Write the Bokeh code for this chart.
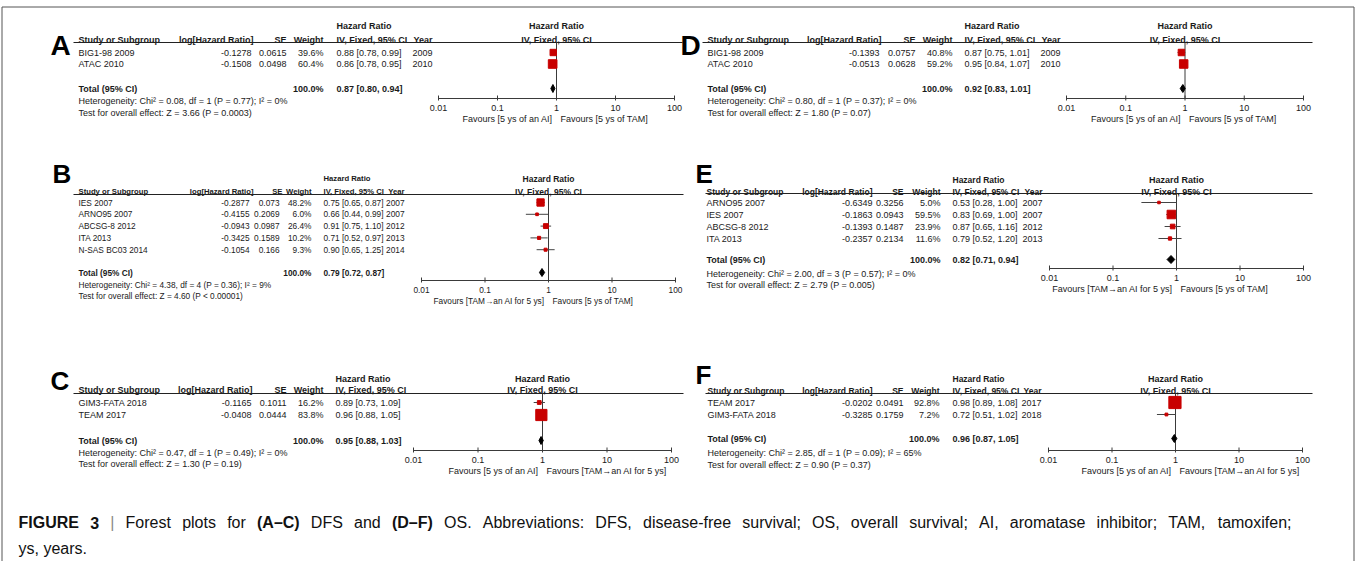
from bokeh.plotting import figure
from bokeh.models import Range1d, LogScale, ColumnDataSource
from bokeh.core.properties import value
from bokeh.embed import file_html
from bokeh.resources import INLINE

# ---------------- data ----------------
hr_ticks = [0.01, 0.1, 1, 10, 100]
hr_tick_labels = ["0.01", "0.1", "1", "10", "100"]

A_study = ["BIG1-98 2009", "ATAC 2010"]
A_loghr = ["-0.1278", "-0.1508"]
A_se = ["0.0615", "0.0498"]
A_weight = [39.6, 60.4]
A_hr = [0.88, 0.86]
A_lo = [0.78, 0.78]
A_hi = [0.99, 0.95]
A_year = ["2009", "2010"]
A_total = [0.87, 0.80, 0.94]
A_total_weight = "100.0%"
A_het = "Heterogeneity: Chi² = 0.08, df = 1 (P = 0.77); I² = 0%"
A_test = "Test for overall effect: Z = 3.66 (P = 0.0003)"
A_favours = ["Favours [5 ys of an AI]", "Favours [5 ys of TAM]"]

B_study = ["IES 2007", "ARNO95 2007", "ABCSG-8 2012", "ITA 2013", "N-SAS BC03 2014"]
B_loghr = ["-0.2877", "-0.4155", "-0.0943", "-0.3425", "-0.1054"]
B_se = ["0.073", "0.2069", "0.0987", "0.1589", "0.166"]
B_weight = [48.2, 6.0, 26.4, 10.2, 9.3]
B_hr = [0.75, 0.66, 0.91, 0.71, 0.90]
B_lo = [0.65, 0.44, 0.75, 0.52, 0.65]
B_hi = [0.87, 0.99, 1.10, 0.97, 1.25]
B_year = ["2007", "2007", "2012", "2013", "2014"]
B_total = [0.79, 0.72, 0.87]
B_total_weight = "100.0%"
B_het = "Heterogeneity: Chi² = 4.38, df = 4 (P = 0.36); I² = 9%"
B_test = "Test for overall effect: Z = 4.60 (P < 0.00001)"
B_favours = ["Favours [TAM\u2192an AI for 5 ys]", "Favours [5 ys of TAM]"]

C_study = ["GIM3-FATA 2018", "TEAM 2017"]
C_loghr = ["-0.1165", "-0.0408"]
C_se = ["0.1011", "0.0444"]
C_weight = [16.2, 83.8]
C_hr = [0.89, 0.96]
C_lo = [0.73, 0.88]
C_hi = [1.09, 1.05]
C_year = None
C_total = [0.95, 0.88, 1.03]
C_total_weight = "100.0%"
C_het = "Heterogeneity: Chi² = 0.47, df = 1 (P = 0.49); I² = 0%"
C_test = "Test for overall effect: Z = 1.30 (P = 0.19)"
C_favours = ["Favours [5 ys of an AI]", "Favours [TAM\u2192an AI for 5 ys]"]

D_study = ["BIG1-98 2009", "ATAC 2010"]
D_loghr = ["-0.1393", "-0.0513"]
D_se = ["0.0757", "0.0628"]
D_weight = [40.8, 59.2]
D_hr = [0.87, 0.95]
D_lo = [0.75, 0.84]
D_hi = [1.01, 1.07]
D_year = ["2009", "2010"]
D_total = [0.92, 0.83, 1.01]
D_total_weight = "100.0%"
D_het = "Heterogeneity: Chi² = 0.80, df = 1 (P = 0.37); I² = 0%"
D_test = "Test for overall effect: Z = 1.80 (P = 0.07)"
D_favours = ["Favours [5 ys of an AI]", "Favours [5 ys of TAM]"]

E_study = ["ARNO95 2007", "IES 2007", "ABCSG-8 2012", "ITA 2013"]
E_loghr = ["-0.6349", "-0.1863", "-0.1393", "-0.2357"]
E_se = ["0.3256", "0.0943", "0.1487", "0.2134"]
E_weight = [5.0, 59.5, 23.9, 11.6]
E_hr = [0.53, 0.83, 0.87, 0.79]
E_lo = [0.28, 0.69, 0.65, 0.52]
E_hi = [1.00, 1.00, 1.16, 1.20]
E_year = ["2007", "2007", "2012", "2013"]
E_total = [0.82, 0.71, 0.94]
E_total_weight = "100.0%"
E_het = "Heterogeneity: Chi² = 2.00, df = 3 (P = 0.57); I² = 0%"
E_test = "Test for overall effect: Z = 2.79 (P = 0.005)"
E_favours = ["Favours [TAM\u2192an AI for 5 ys]", "Favours [5 ys of TAM]"]

F_study = ["TEAM 2017", "GIM3-FATA 2018"]
F_loghr = ["-0.0202", "-0.3285"]
F_se = ["0.0491", "0.1759"]
F_weight = [92.8, 7.2]
F_hr = [0.98, 0.72]
F_lo = [0.89, 0.51]
F_hi = [1.08, 1.02]
F_year = ["2017", "2018"]
F_total = [0.96, 0.87, 1.05]
F_total_weight = "100.0%"
F_het = "Heterogeneity: Chi² = 2.85, df = 1 (P = 0.09); I² = 65%"
F_test = "Test for overall effect: Z = 0.90 (P = 0.37)"
F_favours = ["Favours [5 ys of an AI]", "Favours [TAM\u2192an AI for 5 ys]"]

caption_line1 = ("FIGURE 3 | Forest plots for (A\u2013C) DFS and (D\u2013F) OS. Abbreviations: DFS, "
                 "disease-free survival; OS, overall survival; AI, aromatase inhibitor; TAM, tamoxifen;")
caption_line2 = "ys, years."
caption_bold = {"FIGURE", "3", "(A\u2013C)", "(D\u2013F)"}

# ---------------- layout (page pixel positions) ----------------
LAYOUT = {
    "A": dict(letter=(50, 45), lsize="28px", fs="9px", hfs="9px", ffs="9px",
              hr_y=25, head_y=39, line_y=42, row0=52, step=11.5,
              tot_y=88, het_y=100, test_y=112, xs=78, xlog_h=253, xlog=251, xse_h=286, xse=286,
              xwt=323, xci=336, xyr=432,
              line_x=(73, 682), fa=438, fb=674, ax_y=98),
    "D": dict(letter=(680, 45), lsize="28px", fs="9px", hfs="9px", ffs="9px",
              hr_y=25, head_y=39, line_y=42, row0=52, step=11.5,
              tot_y=88, het_y=100, test_y=112, xs=707, xlog_h=881, xlog=879, xse_h=915, xse=915,
              xwt=952, xci=964, xyr=1060,
              line_x=(702, 1312), fa=1066, fb=1303, ax_y=98),
    "B": dict(letter=(52, 173), lsize="26px", fs="8.3px", hfs="7.7px", ffs="8.5px",
              hr_y=178, head_y=191, line_y=194, row0=202, step=11.8,
              tot_y=272, het_y=284, test_y=295, xs=78, xlog_h=253, xlog=249, xse_h=282, xse=279,
              xwt=311, xci=323, xyr=404,
              line_x=(73, 683), fa=421, fb=675, ax_y=280),
    "E": dict(letter=(695, 173), lsize="26px", fs="9px", hfs="8.5px", ffs="9px",
              hr_y=179, head_y=191, line_y=193, row0=202, step=12,
              tot_y=259, het_y=273, test_y=284, xs=706, xlog_h=872, xlog=872, xse_h=903, xse=903,
              xwt=940, xci=952, xyr=1042,
              line_x=(705, 1312), fa=1049, fb=1303, ax_y=268),
    "C": dict(letter=(50, 380), lsize="26px", fs="9px", hfs="9px", ffs="9px",
              hr_y=378, head_y=389, line_y=393, row0=402, step=12.5,
              tot_y=440, het_y=452, test_y=463, xs=78, xlog_h=252, xlog=251, xse_h=286, xse=286,
              xwt=323, xci=335, xyr=None,
              line_x=(73, 683), fa=413, fb=671, ax_y=450),
    "F": dict(letter=(695, 374), lsize="26px", fs="9px", hfs="8.5px", ffs="9px",
              hr_y=378, head_y=390, line_y=393, row0=402, step=12,
              tot_y=438, het_y=452, test_y=464, xs=707, xlog_h=872, xlog=872, xse_h=903, xse=903,
              xwt=939, xci=952, xyr=1041,
              line_x=(705, 1312), fa=1048, fb=1302, ax_y=450),
}
CAPTION = dict(x0=18, x1=1291, y1=522, y2=548, size=16)

FONT = value("Liberation Sans")
TXT = "#1a1a1a"
LINE = "#3a3a3a"
RED = "#c80000"
BORDER = "#555555"

W, H = 1356, 561

p = figure(width=W, height=H, x_range=Range1d(0, W), y_range=Range1d(H, 0),
           output_backend="svg", toolbar_location=None, min_border=0,
           x_axis_location=None, y_axis_location=None)
p.grid.visible = False
p.outline_line_color = None
p.background_fill_color = "white"
p.border_fill_color = "white"


def txt(xs, ys, texts, align="left", bold=False, size="9px", rng="default", color=TXT,
        baseline="middle", xoff=0):
    src = ColumnDataSource(dict(x=list(xs), y=list(ys), t=list(texts)))
    p.text(x="x", y="y", text="t", source=src, text_align=align, text_baseline=baseline,
           text_font=FONT, text_font_size=size, text_font_style="bold" if bold else "normal",
           text_color=color, x_range_name=rng, x_offset=xoff)


def log_range(a, b):
    k = 4.0 / (b - a)
    lo = -2 + (0 - a) * k
    hi = -2 + (W - a) * k
    return Range1d(10 ** lo, 10 ** hi)


def draw_panel(key, study, loghr, se, weight, hr, lo, hi, year, total, total_w, het, test, favours):
    L = LAYOUT[key]
    fs, hfs, ffs = L["fs"], L["hfs"], L["ffs"]
    rng = "f" + key
    p.extra_x_ranges[rng] = log_range(L["fa"], L["fb"])
    p.extra_x_scales[rng] = LogScale()

    n = len(study)
    ys = [L["row0"] + i * L["step"] for i in range(n)]

    # panel letter
    txt([L["letter"][0]], [L["letter"][1]], [key], bold=True, size=L["lsize"], color="black",
        baseline="alphabetic")

    # table header
    txt([L["xci"]], [L["hr_y"]], ["Hazard Ratio"], bold=True, size=hfs)
    txt([L["xs"]], [L["head_y"]], ["Study or Subgroup"], bold=True, size=hfs)
    txt([L["xlog_h"], L["xse_h"], L["xwt"]], [L["head_y"]] * 3,
        ["log[Hazard Ratio]", "SE", "Weight"], align="right", bold=True, size=hfs)
    txt([L["xci"]], [L["head_y"]], ["IV, Fixed, 95% CI"], bold=True, size=hfs)
    if year is not None:
        txt([L["xyr"]], [L["head_y"]], ["Year"], align="right", bold=True, size=hfs)
    p.segment(x0=[L["line_x"][0]], y0=[L["line_y"]], x1=[L["line_x"][1]], y1=[L["line_y"]],
              line_color="#222", line_width=1)

    # rows
    txt([L["xs"]] * n, ys, study, size=fs)
    txt([L["xlog"]] * n, ys, loghr, align="right", size=fs)
    txt([L["xse"]] * n, ys, se, align="right", size=fs)
    txt([L["xwt"]] * n, ys, ["%.1f%%" % w for w in weight], align="right", size=fs)
    txt([L["xci"]] * n, ys, ["%.2f [%.2f, %.2f]" % (h, l, u) for h, l, u in zip(hr, lo, hi)],
        size=fs)
    if year is not None:
        txt([L["xyr"]] * n, ys, year, align="right", size=fs)

    # total + stats
    txt([L["xs"]], [L["tot_y"]], ["Total (95% CI)"], bold=True, size=fs)
    txt([L["xwt"]], [L["tot_y"]], [total_w], align="right", bold=True, size=fs)
    txt([L["xci"]], [L["tot_y"]], ["%.2f [%.2f, %.2f]" % tuple(total)], bold=True, size=fs)
    txt([L["xs"]], [L["het_y"]], [het], size=fs)
    txt([L["xs"]], [L["test_y"]], [test], size=fs)

    # forest header
    txt([1, 1], [L["hr_y"], L["head_y"]], ["Hazard Ratio", "IV, Fixed, 95% CI"], align="center",
        bold=True, rng=rng, size=ffs)

    # line of no effect
    p.segment(x0=[1], y0=[L["line_y"]], x1=[1], y1=[L["ax_y"]], line_color=LINE, line_width=1,
              x_range_name=rng)

    # CIs and squares (square size grows with the study weight)
    p.segment(x0=lo, y0=ys, x1=hi, y1=ys, line_color="#444", line_width=1, x_range_name=rng)
    sizes = [2 + 0.11 * w for w in weight]
    p.scatter(x=hr, y=ys, marker="square", size=sizes, fill_color=RED, line_color=RED,
              x_range_name=rng)

    # total diamond
    t, tl, th = total
    ty = L["tot_y"]
    p.patch(x=[tl, t, th, t], y=[ty, ty - 4, ty, ty + 4], fill_color="black", line_color="black",
            x_range_name=rng)

    # axis
    ay = L["ax_y"]
    p.segment(x0=[hr_ticks[0]], y0=[ay], x1=[hr_ticks[-1]], y1=[ay], line_color=LINE,
              line_width=1, x_range_name=rng)
    p.segment(x0=hr_ticks, y0=[ay - 3] * len(hr_ticks), x1=hr_ticks, y1=[ay + 2] * len(hr_ticks),
              line_color=LINE, line_width=1, x_range_name=rng)
    txt(hr_ticks, [ay + 9.5] * len(hr_ticks), hr_tick_labels, align="center", rng=rng, size=fs)
    txt([1], [ay + 20.5], [favours[0]], align="right", rng=rng, xoff=-4, size=fs)
    txt([1], [ay + 20.5], [favours[1]], align="left", rng=rng, xoff=4, size=fs)


draw_panel("A", A_study, A_loghr, A_se, A_weight, A_hr, A_lo, A_hi, A_year, A_total,
           A_total_weight, A_het, A_test, A_favours)
draw_panel("B", B_study, B_loghr, B_se, B_weight, B_hr, B_lo, B_hi, B_year, B_total,
           B_total_weight, B_het, B_test, B_favours)
draw_panel("C", C_study, C_loghr, C_se, C_weight, C_hr, C_lo, C_hi, C_year, C_total,
           C_total_weight, C_het, C_test, C_favours)
draw_panel("D", D_study, D_loghr, D_se, D_weight, D_hr, D_lo, D_hi, D_year, D_total,
           D_total_weight, D_het, D_test, D_favours)
draw_panel("E", E_study, E_loghr, E_se, E_weight, E_hr, E_lo, E_hi, E_year, E_total,
           E_total_weight, E_het, E_test, E_favours)
draw_panel("F", F_study, F_loghr, F_se, F_weight, F_hr, F_lo, F_hi, F_year, F_total,
           F_total_weight, F_het, F_test, F_favours)

# blank band between the panels and the caption
p.quad(left=[3], right=[1351], top=[490], bottom=[508], fill_color="white", line_color=None)

# box around the figure (top, left and right edges; the bottom lies below the page)
p.quad(left=[1.5], right=[1353.5], top=[6.5], bottom=[H + 20], fill_color=None,
       line_color=BORDER, line_width=1)

# ---------------- caption (justified first line, Arial/Liberation metrics) ----------------
REG = dict(zip("abcdefghijklmnopqrstuvwxyz",
               [556, 556, 500, 556, 556, 278, 556, 556, 222, 222, 500, 222, 833, 556, 556, 556,
                556, 333, 500, 278, 556, 500, 722, 500, 500, 500]))
REG.update(dict(zip("ABCDEFGHIJKLMNOPQRSTUVWXYZ",
                    [667, 667, 722, 722, 667, 611, 778, 722, 278, 500, 667, 556, 833, 722, 778,
                     667, 778, 722, 667, 611, 722, 667, 944, 667, 667, 611])))
REG.update({c: 556 for c in "0123456789"})
REG.update({" ": 278, ".": 278, ",": 278, ":": 278, ";": 278, "-": 333, "(": 333, ")": 333,
            "|": 260, "\u2013": 556})
BOLD = dict(REG)
BOLD.update({"A": 722, "C": 722, "D": 722, "E": 667, "F": 611, "G": 778, "I": 278, "R": 722,
             "U": 722, "(": 333, ")": 333, "\u2013": 556})


def word_width(w, bold, size):
    tab = BOLD if bold else REG
    return sum(tab.get(c, 556) for c in w) * size / 1000.0


words = caption_line1.split()
cs = CAPTION["size"]
widths = [word_width(w, w in caption_bold, cs) for w in words]
gap = (CAPTION["x1"] - CAPTION["x0"] - sum(widths)) / (len(words) - 1)
xpos, cur = [], CAPTION["x0"]
for wd in widths:
    xpos.append(cur)
    cur += wd + gap
bold_idx = [i for i, w in enumerate(words) if w in caption_bold]
reg_idx = [i for i, w in enumerate(words) if w not in caption_bold and w != "|"]
bar_idx = [i for i, w in enumerate(words) if w == "|"]
txt([xpos[i] for i in bold_idx], [CAPTION["y1"]] * len(bold_idx), [words[i] for i in bold_idx],
    bold=True, size="%dpx" % cs, color="#111")
txt([xpos[i] for i in reg_idx], [CAPTION["y1"]] * len(reg_idx), [words[i] for i in reg_idx],
    size="%dpx" % cs, color="#111")
txt([xpos[i] for i in bar_idx], [CAPTION["y1"]] * len(bar_idx), [words[i] for i in bar_idx],
    size="%dpx" % cs, color="#888")
txt([CAPTION["x0"]], [CAPTION["y2"]], [caption_line2], size="%dpx" % cs, color="#111")

open("out.html", "w").write(file_html(p, INLINE))
